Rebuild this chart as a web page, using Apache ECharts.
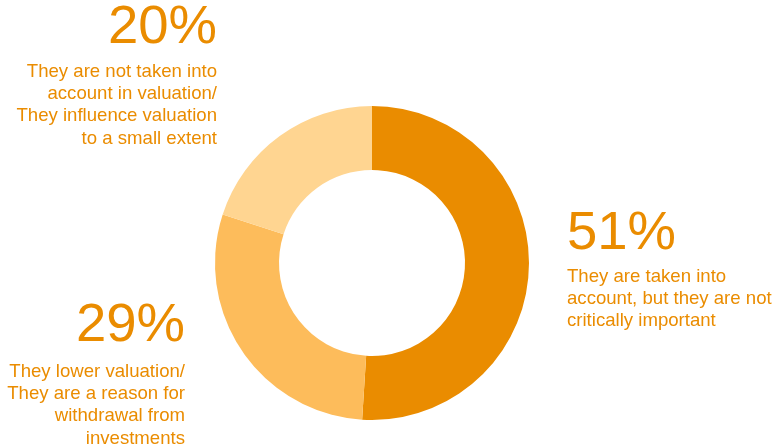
<!DOCTYPE html>
<html>
<head>
<meta charset="utf-8">
<script src="https://cdn.jsdelivr.net/npm/echarts@6/dist/echarts.min.js"></script>
<style>
  html, body { margin: 0; padding: 0; background: #fff; }
  #chart { width: 777px; height: 447px; }
</style>
</head>
<body>
<div id="chart"></div>
<script>
// Survey answers, in clockwise order starting at 12 o'clock
const categories = [
  'They are taken into\naccount, but they are not\ncritically important',
  'They lower valuation/\nThey are a reason for\nwithdrawal from\ninvestments',
  'They are not taken into\naccount in valuation/\nThey influence valuation\nto a small extent'
];
const shares = [51, 29, 20];
const sliceColors = ['#EA8C00', '#FDBC5B', '#FFD591'];

const textColor = '#EA8C00';
const fontFamily = '"Liberation Sans", Arial, sans-serif';

// Where each answer's caption sits: anchor x, baseline of the big percentage,
// baseline of the first caption line, and text alignment.
const captionPlacement = [
  { x: 567, bigBase: 253, lineBase: 283, align: 'left' },
  { x: 185, bigBase: 345, lineBase: 378, align: 'right' },
  { x: 217, bigBase: 47, lineBase: 78, align: 'right' }
];

const bigSize = 54.5, smallSize = 18.6, lineH = 22.3;

const graphics = [];
categories.forEach((label, i) => {
  const p = captionPlacement[i];
  graphics.push({
    type: 'text',
    x: p.x,
    y: p.bigBase - bigSize * 0.35,
    style: {
      text: shares[i] + '%',
      font: bigSize + 'px ' + fontFamily,
      fill: textColor,
      align: p.align,
      verticalAlign: 'middle'
    }
  });
  graphics.push({
    type: 'text',
    x: p.x,
    y: p.lineBase - smallSize * 0.35 - lineH / 2,
    style: {
      text: label,
      font: smallSize + 'px ' + fontFamily,
      lineHeight: lineH,
      fill: textColor,
      align: p.align,
      verticalAlign: 'top'
    }
  });
});

const chart = echarts.init(document.getElementById('chart'), null, { renderer: 'canvas' });
chart.setOption({
  animation: false,
  backgroundColor: '#ffffff',
  series: [{
    type: 'pie',
    center: [372, 263],
    radius: [93, 157],
    startAngle: 90,
    clockwise: true,
    label: { show: false },
    labelLine: { show: false },
    emphasis: { disabled: true },
    itemStyle: { borderWidth: 0 },
    data: shares.map((v, i) => ({
      value: v,
      name: categories[i],
      itemStyle: { color: sliceColors[i] }
    }))
  }],
  graphic: graphics
});
</script>
</body>
</html>
